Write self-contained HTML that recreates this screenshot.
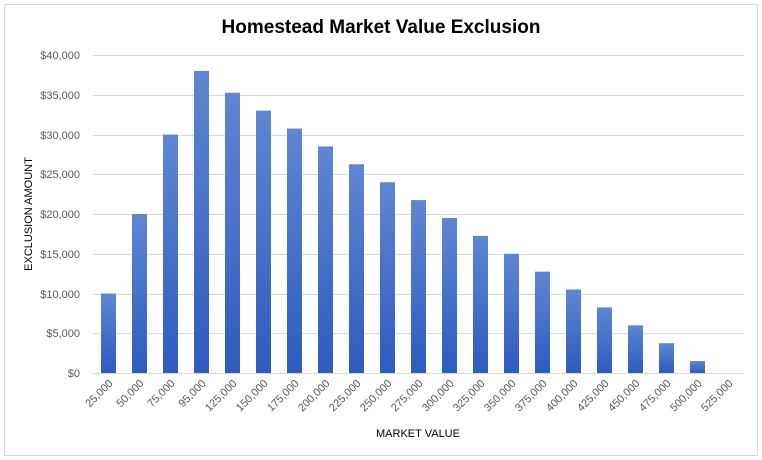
<!DOCTYPE html>
<html><head><style>body{margin:0;background:#fff}svg{display:block}</style></head>
<body>
<svg width="762" height="460" xmlns="http://www.w3.org/2000/svg" font-family="Liberation Sans, sans-serif">
<defs><linearGradient id="g" x1="0" y1="0" x2="0" y2="1"><stop offset="0" stop-color="#5f86d2"/><stop offset="1" stop-color="#2d5cbf"/></linearGradient></defs>
<rect x="4.5" y="4.5" width="753" height="451" fill="#fff" stroke="#d9d9d9"/>
<text x="381" y="33" text-anchor="middle" font-size="19" font-weight="bold" fill="#000">Homestead Market Value Exclusion</text>
<g stroke="#d9d9d9" stroke-width="1">
<line x1="93" x2="744" y1="55.5" y2="55.5"/><line x1="93" x2="744" y1="95.5" y2="95.5"/><line x1="93" x2="744" y1="135.5" y2="135.5"/><line x1="93" x2="744" y1="174.5" y2="174.5"/><line x1="93" x2="744" y1="214.5" y2="214.5"/><line x1="93" x2="744" y1="254.5" y2="254.5"/><line x1="93" x2="744" y1="294.5" y2="294.5"/><line x1="93" x2="744" y1="333.5" y2="333.5"/><line x1="93" x2="744" y1="373.5" y2="373.5"/>
</g>
<g font-size="11" fill="#595959" text-anchor="end">
<text x="80" y="59">$40,000</text><text x="80" y="99">$35,000</text><text x="80" y="139">$30,000</text><text x="80" y="178">$25,000</text><text x="80" y="218">$20,000</text><text x="80" y="258">$15,000</text><text x="80" y="298">$10,000</text><text x="80" y="337">$5,000</text><text x="80" y="377">$0</text>
</g>
<text transform="translate(32,214) rotate(-90)" text-anchor="middle" font-size="11" fill="#000">EXCLUSION AMOUNT</text>
<text x="418" y="437" text-anchor="middle" font-size="11" fill="#000">MARKET VALUE</text>
<g id="bars" fill="url(#g)"></g>
<g id="lbl" font-size="11" fill="#595959" text-anchor="end"></g>
<script>
var v=[10000,20000,30000,38000,35250,33000,30750,28500,26250,24000,21750,19500,17250,15000,12750,10500,8250,6000,3750,1500,0];
var l=["25,000","50,000","75,000","95,000","125,000","150,000","175,000","200,000","225,000","250,000","275,000","300,000","325,000","350,000","375,000","400,000","425,000","450,000","475,000","500,000","525,000"];
var b=document.getElementById('bars'),t=document.getElementById('lbl'),ns="http://www.w3.org/2000/svg";
for(var i=0;i<21;i++){var cx=108.5+31*i,h=v[i]*318/40000;
var r=document.createElementNS(ns,'rect');r.setAttribute('x',cx-7.5);r.setAttribute('width',15);r.setAttribute('y',373-h);r.setAttribute('height',h);b.appendChild(r);
var s=document.createElementNS(ns,'text');s.setAttribute('transform','translate('+(cx+5)+',384) rotate(-45)');s.textContent=l[i];t.appendChild(s);}
</script>
</svg>
</body></html>
